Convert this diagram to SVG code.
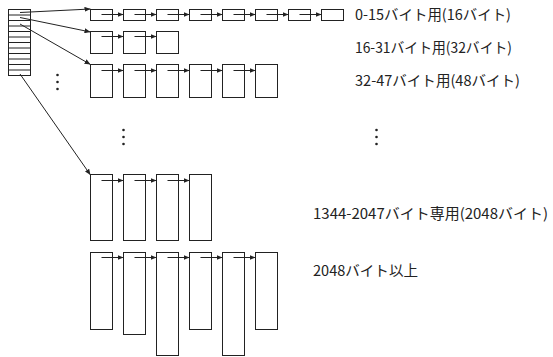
<svg xmlns="http://www.w3.org/2000/svg" width="553" height="357" viewBox="0 0 553 357">
<style>
.b{fill:#fff;stroke:#222;stroke-width:1}
.c{fill:none;stroke:#222;stroke-width:1}
.t{font-family:"Noto Sans CJK JP","Noto Sans",sans-serif;font-size:14.5px;fill:#222}
.d{fill:#222}
</style>
<defs>
<marker id="ah" markerUnits="userSpaceOnUse" markerWidth="6" markerHeight="5" refX="6" refY="2.5" orient="auto">
<path d="M0,0 L6,2.5 L0,5 z" fill="#222"/>
</marker>
</defs>
<rect width="553" height="357" fill="#fff"/>
<g id="table">
<rect class="b" x="8.5" y="9.5" width="22" height="66"/>
<path class="c" d="M8.5,15 H30.5 M8.5,20.5 H30.5 M8.5,26 H30.5 M8.5,31.5 H30.5 M8.5,37 H30.5 M8.5,42.5 H30.5 M8.5,48 H30.5 M8.5,53.5 H30.5 M8.5,59 H30.5 M8.5,64.5 H30.5 M8.5,70 H30.5"/>
</g>
<g id="row1">
<rect class="b" x="90.5" y="9.5" width="22" height="11"/>
<rect class="b" x="123.5" y="9.5" width="22" height="11"/>
<rect class="b" x="156.5" y="9.5" width="22" height="11"/>
<rect class="b" x="189.5" y="9.5" width="22" height="11"/>
<rect class="b" x="222.5" y="9.5" width="22" height="11"/>
<rect class="b" x="255.5" y="9.5" width="22" height="11"/>
<rect class="b" x="288.5" y="9.5" width="22" height="11"/>
<rect class="b" x="321.5" y="9.5" width="22" height="11"/>
</g>
<g id="row2">
<rect class="b" x="90.5" y="31.5" width="22" height="22"/>
<rect class="b" x="123.5" y="31.5" width="22" height="22"/>
<rect class="b" x="156.5" y="31.5" width="22" height="22"/>
</g>
<g id="row3">
<rect class="b" x="90.5" y="64.5" width="22" height="33"/>
<rect class="b" x="123.5" y="64.5" width="22" height="33"/>
<rect class="b" x="156.5" y="64.5" width="22" height="33"/>
<rect class="b" x="189.5" y="64.5" width="22" height="33"/>
<rect class="b" x="222.5" y="64.5" width="22" height="33"/>
<rect class="b" x="255.5" y="64.5" width="22" height="33"/>
</g>
<g id="row4">
<rect class="b" x="90.5" y="174.5" width="22" height="66"/>
<rect class="b" x="123.5" y="174.5" width="22" height="66"/>
<rect class="b" x="156.5" y="174.5" width="22" height="66"/>
<rect class="b" x="189.5" y="174.5" width="22" height="66"/>
</g>
<g id="row5">
<rect class="b" x="90.5" y="252.5" width="22" height="77"/>
<rect class="b" x="123.5" y="252.5" width="22" height="82"/>
<rect class="b" x="156.5" y="252.5" width="22" height="103"/>
<rect class="b" x="189.5" y="252.5" width="22" height="77"/>
<rect class="b" x="222.5" y="252.5" width="22" height="103"/>
<rect class="b" x="255.5" y="252.5" width="22" height="77"/>
</g>
<g id="connectors" class="c" marker-end="url(#ah)">
<path class="c" marker-end="url(#ah)" d="M20,12.5 L90.5,9"/>
<path class="c" marker-end="url(#ah)" d="M20,17.5 L90.5,32"/>
<path class="c" marker-end="url(#ah)" d="M20,24 L90.5,64.5"/>
<path class="c" marker-end="url(#ah)" d="M20,74 L90.5,175"/>
<path class="c" marker-end="url(#ah)" d="M101.5,14.5 H123.5"/>
<path class="c" marker-end="url(#ah)" d="M134.5,14.5 H156.5"/>
<path class="c" marker-end="url(#ah)" d="M167.5,14.5 H189.5"/>
<path class="c" marker-end="url(#ah)" d="M200.5,14.5 H222.5"/>
<path class="c" marker-end="url(#ah)" d="M233.5,14.5 H255.5"/>
<path class="c" marker-end="url(#ah)" d="M266.5,14.5 H288.5"/>
<path class="c" marker-end="url(#ah)" d="M299.5,14.5 H321.5"/>
<path class="c" marker-end="url(#ah)" d="M101.5,36.5 H123.5"/>
<path class="c" marker-end="url(#ah)" d="M134.5,36.5 H156.5"/>
<path class="c" marker-end="url(#ah)" d="M101.5,70.5 H123.5"/>
<path class="c" marker-end="url(#ah)" d="M134.5,70.5 H156.5"/>
<path class="c" marker-end="url(#ah)" d="M167.5,70.5 H189.5"/>
<path class="c" marker-end="url(#ah)" d="M200.5,70.5 H222.5"/>
<path class="c" marker-end="url(#ah)" d="M233.5,70.5 H255.5"/>
<path class="c" marker-end="url(#ah)" d="M101.5,180.5 H123.5"/>
<path class="c" marker-end="url(#ah)" d="M134.5,180.5 H156.5"/>
<path class="c" marker-end="url(#ah)" d="M167.5,180.5 H189.5"/>
<path class="c" marker-end="url(#ah)" d="M101.5,257.5 H123.5"/>
<path class="c" marker-end="url(#ah)" d="M134.5,257.5 H156.5"/>
<path class="c" marker-end="url(#ah)" d="M167.5,257.5 H189.5"/>
<path class="c" marker-end="url(#ah)" d="M200.5,257.5 H222.5"/>
<path class="c" marker-end="url(#ah)" d="M233.5,257.5 H255.5"/>
</g>
<g id="dots">
<circle class="d" cx="57.5" cy="75" r="1.3"/>
<circle class="d" cx="57.5" cy="82" r="1.3"/>
<circle class="d" cx="57.5" cy="89" r="1.3"/>
<circle class="d" cx="123.5" cy="130" r="1.3"/>
<circle class="d" cx="123.5" cy="137" r="1.3"/>
<circle class="d" cx="123.5" cy="144" r="1.3"/>
<circle class="d" cx="376.5" cy="130" r="1.3"/>
<circle class="d" cx="376.5" cy="137" r="1.3"/>
<circle class="d" cx="376.5" cy="144" r="1.3"/>
</g>
<g id="labels">
<text class="t" x="355" y="20" textLength="156" lengthAdjust="spacingAndGlyphs">0-15バイト用(16バイト)</text>
<text class="t" x="355" y="53" textLength="157" lengthAdjust="spacingAndGlyphs">16-31バイト用(32バイト)</text>
<text class="t" x="355" y="86" textLength="165" lengthAdjust="spacingAndGlyphs">32-47バイト用(48バイト)</text>
<text class="t" x="313" y="218.5" textLength="235" lengthAdjust="spacingAndGlyphs">1344-2047バイト専用(2048バイト)</text>
<text class="t" x="313" y="275.5" textLength="105" lengthAdjust="spacingAndGlyphs">2048バイト以上</text>
</g>
</svg>
